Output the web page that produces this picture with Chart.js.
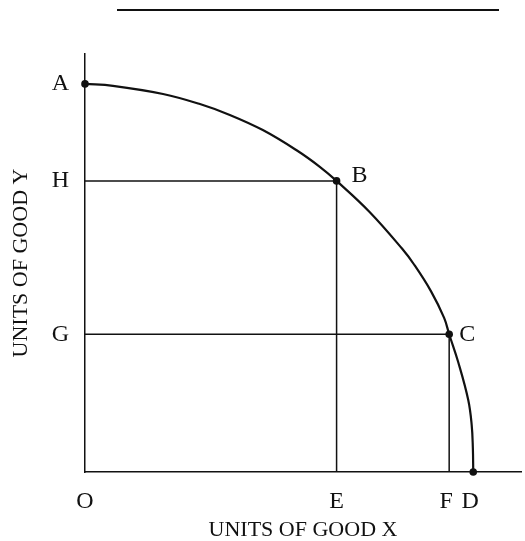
<!DOCTYPE html>
<html>
<head>
<meta charset="utf-8">
<script src="https://cdn.jsdelivr.net/npm/chart.js@4/dist/chart.umd.min.js"></script>
<style>
  html, body { margin: 0; padding: 0; background: #fff; }
  #wrap { position: relative; width: 525px; height: 541px; }
  #rule { position: absolute; left: 117px; top: 9px; width: 382px; height: 2px; background: #111; }
  canvas { position: absolute; left: 0; top: 0; }
</style>
</head>
<body>
<div id="wrap">
  <canvas id="c" width="525" height="541"></canvas>
  <div id="rule"></div>
</div>
<script>
// Production possibility frontier (units: D = 100 on X, A = 100 on Y)
const curveX = [0, 7.2, 20.1, 29.6, 37.3, 45.8, 54.5, 60.4, 64.8, 73.3, 81.7, 84.8, 89.1, 92.5, 93.8, 96.1, 98.7, 99.6, 99.9, 100];
const curveY = [100, 99.5, 97.4, 94.8, 92.0, 88.1, 82.9, 78.7, 75.0, 67.0, 57.5, 53.4, 46.6, 39.7, 35.5, 28.4, 18.6, 12.1, 6.2, 0];

// Marked points on the frontier
const pointLabels = ['A', 'B', 'C', 'D'];
const pointX = [0, 64.8, 93.8, 100];
const pointY = [100, 75.0, 35.5, 0];

// Axis tick labels
const xTickLabels = ['O', 'E', 'F ', 'D '];
const xTickValues = [0, 64.8, 93.8, 100];
const yTickLabels = ['A', 'H', 'G'];
const yTickValues = [100, 75.0, 35.5];

const xMax = 112.3;
const yMax = 107.7;

const ink = '#111';
const serif = "'Liberation Serif', 'DejaVu Serif', serif";

const curveData = curveX.map((x, i) => ({ x: x, y: curveY[i] }));
const markData = pointX.map((x, i) => ({ x: x, y: pointY[i], label: pointLabels[i] }));

// Guide lines: B -> H, B -> E, C -> G, C -> F
function guide(i, horizontal) {
  return horizontal
    ? [{ x: 0, y: pointY[i] }, { x: pointX[i], y: pointY[i] }]
    : [{ x: pointX[i], y: 0 }, { x: pointX[i], y: pointY[i] }];
}
const guideStyle = { type: 'line', borderColor: ink, borderWidth: 1.5, pointRadius: 0, tension: 0, fill: false, clip: false };

// Point letters B and C beside their markers
const pointLetterPlugin = {
  id: 'pointLetters',
  afterDatasetsDraw(chart) {
    const xs = chart.scales.x, ys = chart.scales.y, ctx = chart.ctx;
    const offsets = { B: [15, -5], C: [10, 0] };
    ctx.save();
    ctx.fillStyle = ink;
    ctx.font = '24px ' + serif;
    ctx.textAlign = 'left';
    ctx.textBaseline = 'middle';
    markData.forEach(p => {
      const off = offsets[p.label];
      if (!off) return;
      ctx.fillText(p.label, xs.getPixelForValue(p.x) + off[0], ys.getPixelForValue(p.y) + off[1]);
    });
    ctx.restore();
  }
};

new Chart(document.getElementById('c'), {
  type: 'scatter',
  data: {
    datasets: [
      Object.assign({ data: guide(1, true) }, guideStyle),
      Object.assign({ data: guide(1, false) }, guideStyle),
      Object.assign({ data: guide(2, true) }, guideStyle),
      Object.assign({ data: guide(2, false) }, guideStyle),
      {
        type: 'line',
        data: curveData,
        borderColor: ink,
        borderWidth: 2.2,
        pointRadius: 0,
        tension: 0.4,
        fill: false,
        clip: false
      },
      {
        data: markData,
        pointRadius: 3.8,
        pointBackgroundColor: ink,
        pointBorderColor: ink,
        pointBorderWidth: 0,
        showLine: false,
        clip: false
      }
    ]
  },
  options: {
    responsive: false,
    devicePixelRatio: 1,
    animation: false,
    events: [],
    layout: { padding: { top: 54, right: 3, left: 0, bottom: 0 } },
    plugins: { legend: { display: false }, tooltip: { enabled: false }, title: { display: false } },
    scales: {
      x: {
        type: 'linear',
        min: 0,
        max: xMax,
        grid: { display: false },
        border: { display: true, color: ink, width: 1.5 },
        afterBuildTicks(scale) { scale.ticks = xTickValues.map(v => ({ value: v })); },
        afterFit(scale) { scale.height = 69; },
        ticks: {
          autoSkip: false,
          maxRotation: 0,
          padding: 7,
          color: ink,
          font: { family: serif, size: 24 },
          callback(value) {
            const i = xTickValues.indexOf(value);
            return i >= 0 ? xTickLabels[i] : '';
          }
        },
        title: {
          display: true,
          text: 'UNITS OF GOOD X',
          color: ink,
          font: { family: serif, size: 22, lineHeight: 1 },
          padding: { top: 0, bottom: 0 }
        }
      },
      y: {
        type: 'linear',
        min: 0,
        max: yMax,
        grid: { display: false },
        border: { display: true, color: ink, width: 1.5 },
        afterBuildTicks(scale) { scale.ticks = yTickValues.map(v => ({ value: v })); },
        afterFit(scale) { scale.width = 85; },
        ticks: {
          autoSkip: false,
          padding: 8,
          color: ink,
          font: { family: serif, size: 24 },
          callback(value) {
            const i = yTickValues.indexOf(value);
            return i >= 0 ? yTickLabels[i] : '';
          }
        },
        title: {
          display: true,
          text: 'UNITS OF GOOD Y',
          color: ink,
          font: { family: serif, size: 22, lineHeight: 1 },
          padding: { top: 10, bottom: 0 }
        }
      }
    }
  },
  plugins: [pointLetterPlugin]
});
</script>
</body>
</html>
